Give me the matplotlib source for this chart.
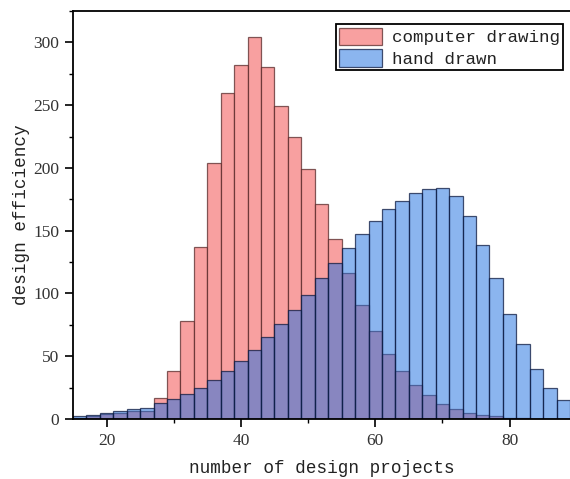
import numpy as np
import matplotlib
matplotlib.use("Agg")
import matplotlib.pyplot as plt
from matplotlib.ticker import MultipleLocator

# bin edges (width 2) and bin centres
bin_edges = list(range(15, 91, 2))
centers = [e + 1 for e in bin_edges[:-1]]

computer_drawing = [1, 2, 4, 5, 6, 6, 17, 38, 78, 137, 204, 260, 282, 304, 280,
                    249, 225, 199, 171, 143, 116, 91, 70, 52, 38, 27, 19, 12, 8,
                    5, 3, 2, 1, 1, 0, 0, 0]
hand_drawn = [2, 3, 5, 6, 8, 9, 13, 16, 20, 25, 31, 38, 46, 55, 65, 76, 87, 99,
              112, 124, 136, 147, 158, 167, 174, 180, 183, 184, 178, 162, 139,
              112, 84, 60, 40, 25, 15]

labels = ["computer drawing", "hand drawn"]
x_ticks = [20, 40, 60, 80]

fig = plt.figure(figsize=(5.7, 4.79), dpi=100)
ax = fig.add_axes([73 / 570, 1 - 419 / 479, 1 - 73 / 570, (419 - 11) / 479])

ax.hist(centers, bins=bin_edges, weights=computer_drawing,
        facecolor="#F8A0A0", edgecolor=(0.3, 0.12, 0.12, 0.7), linewidth=0.9,
        label=labels[0])
ax.hist(centers, bins=bin_edges, weights=hand_drawn,
        facecolor=(25 / 255, 109 / 255, 225 / 255, 0.5),
        edgecolor=(0.05, 0.1, 0.25, 0.75), linewidth=0.9,
        label=labels[1])

ax.set_xlim(15, 89)
ax.set_ylim(0, 325)
ax.set_xticks(x_ticks)
ax.xaxis.set_minor_locator(MultipleLocator(10))
ax.yaxis.set_major_locator(MultipleLocator(50))
ax.yaxis.set_minor_locator(MultipleLocator(25))

ax.spines["right"].set_visible(False)
for s in ["left", "bottom", "top"]:
    ax.spines[s].set_linewidth(1.3)
    ax.spines[s].set_color("black")

ax.tick_params(which="major", direction="out", length=6, width=1.2, pad=4,
               labelsize=12.5, labelcolor="#333333")
ax.tick_params(which="minor", direction="out", length=3, width=1.0)
for lab in ax.get_xticklabels() + ax.get_yticklabels():
    lab.set_fontfamily("Liberation Serif")

ax.set_xlabel("number of design projects", family="Liberation Mono",
              fontsize=12.7, color="#222222", labelpad=8)
ax.set_ylabel("design efficiency", family="Liberation Mono",
              fontsize=12.7, color="#222222", labelpad=2)

leg = ax.legend(loc="upper right", bbox_to_anchor=(563 / 570, 1 - 24 / 479),
                bbox_transform=fig.transFigure,
                prop={"family": "Liberation Mono", "size": 12.6},
                fancybox=False, framealpha=1, edgecolor="black",
                handlelength=2.45, handleheight=1.2, handletextpad=0.55,
                labelspacing=0.2, borderpad=0.2, borderaxespad=0)
leg.get_frame().set_linewidth(1.3)
for t in leg.get_texts():
    t.set_color("#222222")

fig.savefig("out.png", dpi=100)
